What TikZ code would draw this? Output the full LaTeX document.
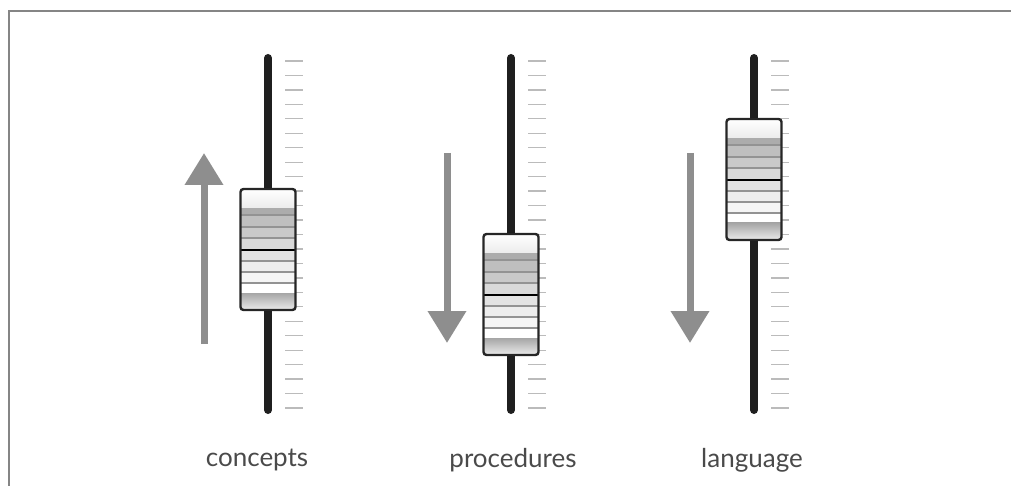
\documentclass[tikz,border=0pt]{standalone}
\usepackage{fontspec}
\setmainfont{Lato}
\usetikzlibrary{arrows.meta}
\definecolor{framegray}{HTML}{858585}
\definecolor{arrowgray}{HTML}{8E8E8E}
\definecolor{tickgray}{HTML}{BBBBBB}
\definecolor{textgray}{HTML}{4A4A4A}

\begin{document}
\begin{tikzpicture}[x = 1pt, y = -1pt,
        boxframe/.style = {draw = framegray, line width = 2pt},
        track/.style = {line width = 8pt, line cap = round, draw = black!88},
        scalemark/.style = {draw = tickgray, line width = 1.3pt},
        movearrow/.style = {draw = arrowgray, line width = 7pt, -{Triangle[width = 37pt, length = 32pt]}},
        knobedge/.style = {draw = black!85, line width = 2.4pt, rounded corners = 3pt},
        knobline/.style = {draw = gray!85, line width = 1.6pt},
        slidertext/.style = {font = \fontsize{26}{30}\selectfont, text = textgray}]
    \useasboundingbox (0, 0) rectangle (1011, 486);
    % frame, open at right and bottom
    \coordinate (fa) at (9, 486);
    \coordinate (fb) at (9, 11);
    \coordinate (fc) at (1011, 11);
    \draw[boxframe] (fa) -- (fb) -- (fc);
    % three sliders
    \foreach \x/\t/\lx/\ys/\ye/\name [count = \i] in {268/189/257/344/153/concepts, 511/234/513/153/343/procedures, 754/119/752/153/343/language} {
        \coordinate (top\i) at (\x, 58);
        \coordinate (bot\i) at (\x, 410);
        \draw[track] (top\i) -- (bot\i);
        \foreach \k in {0, ..., 24}
            \draw[scalemark] (\x + 17, 61 + 14.46 * \k) -- ++(18, 0);
        \coordinate (tail\i) at (\x - 64, \ys);
        \coordinate (tip\i) at (\x - 64, \ye);
        \draw[movearrow] (tail\i) -- (tip\i);
        \begin{scope}[shift = {(\x - 27.5, \t)}]
            \begin{scope}
                \clip[rounded corners = 3pt] (0, 0) rectangle (55, 121);
                \shade[top color = white, bottom color = gray!15] (0, 0) rectangle (55, 19);
                \fill[gray!65] (0, 19) rectangle (55, 26);
                \fill[gray!50] (0, 26) rectangle (55, 38);
                \fill[gray!42] (0, 38) rectangle (55, 49);
                \fill[gray!30] (0, 49) rectangle (55, 61);
                \fill[gray!22] (0, 61) rectangle (55, 72);
                \fill[gray!14] (0, 72) rectangle (55, 83);
                \fill[gray!8] (0, 83) rectangle (55, 94);
                \fill[white] (0, 94) rectangle (55, 104);
                \shade[top color = gray!70, bottom color = gray!15] (0, 104) rectangle (55, 121);
                \foreach \b in {26, 38, 49, 72, 83, 94}
                    \draw[knobline] (0, \b) -- (55, \b);
                \draw[black, line width = 2.2pt] (0, 61) -- (55, 61);
            \end{scope}
            \draw[knobedge] (0, 0) rectangle (55, 121);
        \end{scope}
        \node[slidertext] (name\i) at (\lx, 460) {\name};
    }
\end{tikzpicture}
\end{document}
